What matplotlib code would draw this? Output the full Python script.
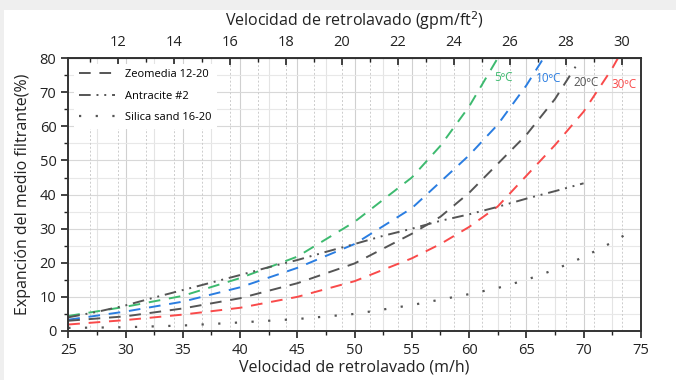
"""Expansion del medio filtrante vs velocidad de retrolavado"""
import matplotlib
matplotlib.use("Agg")
import matplotlib.pyplot as plt
from matplotlib.patches import Rectangle
import numpy as np

plt.rcParams['font.family'] = ['Open Sans', 'DejaVu Sans']

# Zeomedia 12-20 at several temperatures (m/h, %)
v_5 = [25, 30, 35, 40, 45, 50, 55, 57.5, 60, 62.5]
e_5 = [4.4, 7.1, 10.3, 15.5, 21.8, 32.0, 45.0, 54.3, 65.8, 80.0]

v_10 = [25, 30, 35, 40, 45, 50, 55, 60, 62.5, 65, 66.5]
e_10 = [3.3, 5.7, 8.6, 12.8, 18.5, 25.5, 36.0, 51.5, 60.5, 72.0, 80.0]

v_20 = [25, 30, 35, 40, 45, 50, 55, 57.5, 60, 62.5, 65, 67.5, 69.3]
e_20 = [3.0, 4.3, 6.6, 9.6, 14.0, 19.8, 28.5, 33.5, 40.5, 49.0, 57.5, 68.0, 77.5]

v_30 = [25, 30, 35, 40, 45, 50, 55, 57.5, 60, 62.5, 65, 67.5, 70, 72.5, 73]
e_30 = [1.9, 3.2, 4.8, 6.8, 10.0, 14.6, 21.3, 25.5, 30.5, 36.5, 45.5, 54.5, 64.3, 77.0, 80.0]

# Antracite #2
v_ant = [25, 27.5, 30, 32.5, 35, 37.5, 40, 42.5, 45, 47.5, 50, 52.5, 55, 57.5, 60, 62.5, 65, 67.5, 70]
e_ant = [4.0, 5.6, 7.5, 9.8, 12.0, 14.2, 16.4, 18.7, 20.8, 23.2, 25.5, 27.9, 30.0, 32.3, 34.2,
         36.4, 38.8, 41.0, 43.3]

# Silica sand 16-20
v_sil = [25, 30, 35, 40, 45, 50, 55, 60, 62.5, 65, 67.5, 70, 72.5, 74.5]
e_sil = [0.9, 1.1, 1.6, 2.5, 3.5, 5.0, 7.6, 10.8, 12.6, 15.0, 18.0, 21.7, 26.0, 29.9]

temp_labels = ['5ºC', '10ºC', '20ºC', '30ºC']
temp_colors = ['#3dba6f', '#2a7de1', '#555555', '#f94a4a']
label_pos = [(62.2, 74.2), (65.8, 73.9), (69.1, 73.0), (72.4, 72.4)]

M_PER_GPM = 2.4448   # 1 gpm/ft2 = 2.4448 m/h

fig = plt.figure(figsize=(6.76, 3.8), dpi=100)
fig.patch.set_facecolor('#efefef')
fig.patches.append(Rectangle((4/676, 0), 1, 1 - 10/380, transform=fig.transFigure,
                             facecolor='white', edgecolor='none', zorder=-10))
ax = fig.add_axes([0.101, 0.129, 0.847, 0.718])

# grid: solid every 2.5 m/h and 5 %, dotted at every gpm/ft2
for v in np.arange(27.5, 75, 2.5):
    ax.axvline(v, color='#d0d0d0' if v % 5 == 0 else '#e4e4e4', lw=0.8, zorder=0)
for e in np.arange(5, 80, 5):
    ax.axhline(e, color='#d8d8d8' if e % 10 == 0 else '#e8e8e8', lw=0.8, zorder=0)
for g in range(11, 31):
    ax.axvline(g * M_PER_GPM, color='#cccccc', lw=0.7, ls=(0, (2, 2)), zorder=0)

curves = [(v_5, e_5), (v_10, e_10), (v_20, e_20), (v_30, e_30)]
for (v, e), c in zip(curves, temp_colors):
    ax.plot(v, e, color=c, lw=1.4, ls=(0, (6, 4.5)))
ax.plot([], [], color='#555555', lw=1.4, ls=(0, (6, 4.5)), label='Zeomedia 12-20')
ax.plot(v_ant, e_ant, color='#555555', lw=1.4, ls=(0, (6, 3, 1, 3, 1, 3)), label='Antracite #2')
ax.plot(v_sil, e_sil, color='#555555', lw=1.6, ls=(0, (1, 6.5)), label='Silica sand 16-20')

for lab, c, (x, y) in zip(temp_labels, temp_colors, label_pos):
    ax.text(x, y, lab, color=c, fontsize=8.5, ha='left', va='center')

ax.set_xlim(25, 75)
ax.set_ylim(0, 80)
ax.set_xticks(range(25, 76, 5))
ax.set_xticks(np.arange(27.5, 75, 5), minor=True)
ax.set_yticks(range(0, 81, 10))
ax.set_yticks(range(5, 80, 10), minor=True)
ax.tick_params(which='major', direction='out', length=5, width=1.2, labelsize=10.5, colors='#222222')
ax.tick_params(which='minor', direction='out', length=3, width=1.0, colors='#222222')
for s in ax.spines.values():
    s.set_linewidth(1.4)
    s.set_color('#333333')

ax.set_xlabel('Velocidad de retrolavado (m/h)', fontsize=11.5, labelpad=1, color='#222222')
ax.set_ylabel('Expanción del medio filtrante(%)', fontsize=11.5, labelpad=6, color='#222222')

sec = ax.secondary_xaxis('top', functions=(lambda v: v / M_PER_GPM, lambda g: g * M_PER_GPM))
sec.set_xticks(range(12, 31, 2))
sec.set_xticks(range(11, 31, 2), minor=True)
sec.tick_params(which='major', direction='in', length=5, width=1.2, labelsize=10.5,
                colors='#222222', pad=6)
sec.tick_params(which='minor', direction='in', length=3, width=1.0, colors='#222222')
sec.set_xlabel('Velocidad de retrolavado (gpm/ft$^2$)', fontsize=11.5, labelpad=6, color='#222222')

leg = ax.legend(loc='upper left', fontsize=8, frameon=True, handlelength=3.2,
                borderpad=0.5, labelspacing=0.95, handletextpad=0.9, borderaxespad=0.5)
leg.get_frame().set_facecolor('white')
leg.get_frame().set_edgecolor('none')
leg.get_frame().set_alpha(1)

fig.savefig('out.png', dpi=100, facecolor=fig.get_facecolor())
